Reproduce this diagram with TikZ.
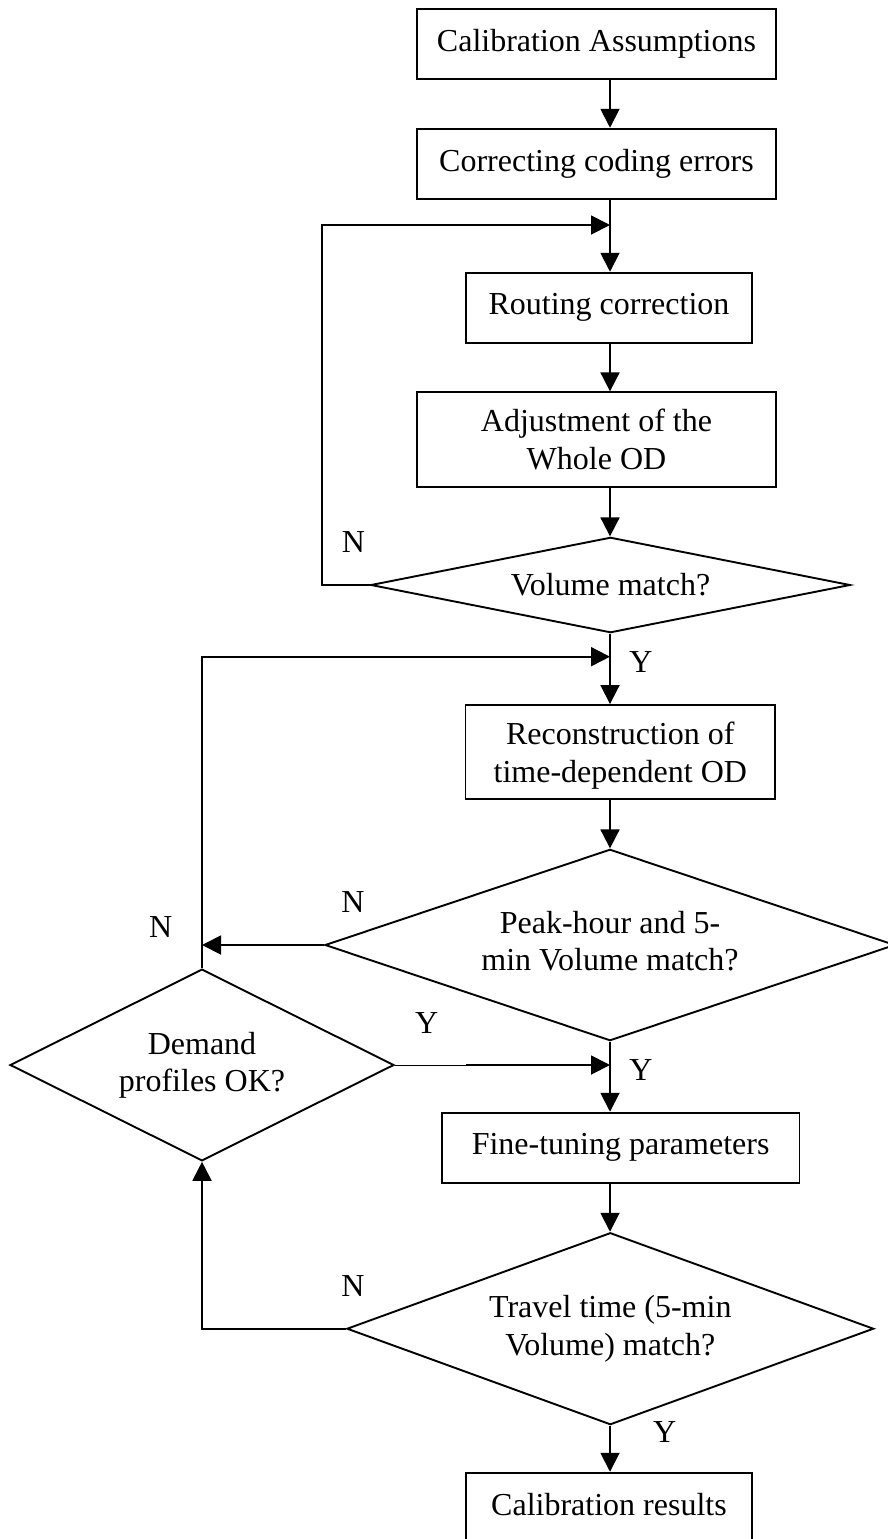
\documentclass[tikz,border=0pt]{standalone}
\usepackage{fontspec}
\setmainfont{Liberation Serif}
\usetikzlibrary{arrows.meta,shapes.geometric}
\begin{document}
\begin{tikzpicture}[x=1pt,y=-1pt,
  font=\fontsize{32pt}{37.3pt}\selectfont,
  line width=1.9pt,
  proc/.style={draw, rectangle, inner sep=0pt, align=center},
  dec/.style={draw, diamond, inner sep=0pt, align=center},
  tag/.style={inner sep=0pt},
  flow/.style={-{Triangle[length=19pt,width=19pt]}},
]
\useasboundingbox (0,0) rectangle (888,1539);

% main vertical axis of the flow
\coordinate (ax) at (610,0);

% process boxes and decisions
\node[proc, minimum width=359pt, minimum height=70pt] (b1) at (596.5,44) {Calibration Assumptions};
\node[proc, minimum width=359pt, minimum height=70.6pt] (b2) at (596.5,164) {Correcting coding errors};
\node[proc, minimum width=286pt, minimum height=70pt] (b3) at (609,307.7) {Routing correction};
\node[proc, minimum width=359pt, minimum height=94.4pt] (b4) at (596.5,439.5) {Adjustment of the\\Whole OD};
\node[dec, shape aspect=5.03, minimum width=479.4pt, minimum height=95.4pt] (d1) at (610.5,585) {Volume match?};
\node[proc, minimum width=309.7pt, minimum height=94pt] (b5) at (620.3,752) {\rule{0pt}{30pt}Reconstruction of\\time-dependent OD};
\node[dec, shape aspect=2.98, minimum width=570pt, minimum height=191.4pt] (d2) at (610,945) {Peak-hour and 5-\\min Volume match?\rule[-8pt]{0pt}{8pt}};
\node[dec, shape aspect=2.0, minimum width=384pt, minimum height=191.7pt] (dm) at (202,1065) {Demand\\profiles OK?};
\node[proc, minimum width=357.8pt, minimum height=70pt] (b6) at (620.6,1147.7) {Fine-tuning parameters};
\node[dec, shape aspect=2.74, minimum width=526.8pt, minimum height=192pt] (d3) at (610.3,1328.7) {Travel time (5-min\\Volume) match?};
\node[proc, minimum width=286pt, minimum height=70pt, text depth=6.9pt] (b7) at (609,1507.7) {Calibration results};

% branch labels
\node[tag] (n1) at (353.4,542) {N};
\node[tag] (y1) at (641,662.5) {Y};
\node[tag] (n2) at (353,902.5) {N};
\node[tag] (n3) at (160.6,927) {N};
\node[tag] (y2) at (426.7,1023) {Y};
\node[tag] (y3) at (641,1070.5) {Y};
\node[tag] (n4) at (353,1286.5) {N};
\node[tag] (y4) at (664.6,1432.5) {Y};

% junction points
\coordinate (j1) at (610,225);
\coordinate (k1) at (322,225);
\coordinate (j2) at (610,656.7);
\coordinate (ym) at (466,1065);

% straight-down flow
\draw[flow] (b1.south -| ax) -- (b2.north -| ax);
\draw[flow] (b2.south -| ax) -- (b3.north -| ax);
\draw[flow] (b3.south -| ax) -- (b4.north -| ax);
\draw[flow] (b4.south -| ax) -- (d1.north -| ax);
\draw[flow] (d1.south -| ax) -- (b5.north -| ax);
\draw[flow] (b5.south -| ax) -- (d2.north -| ax);
\draw[flow] (d2.south -| ax) -- (b6.north -| ax);
\draw[flow] (b6.south -| ax) -- (d3.north -| ax);
\draw[flow] (d3.south -| ax) -- (b7.north -| ax);

% feedback loops
\draw[flow] (d1.west) -| (k1) -- (j1);
\draw[flow] (d2.west) -- (d2.west -| dm.north);
\draw[flow] (dm.north) |- (j2);
\draw[flow] (d3.west) -| (dm.south);
\draw[line width=1pt] (dm.east) -- (ym);
\draw[flow] (ym) -- (ym -| ax);
\end{tikzpicture}
\end{document}
